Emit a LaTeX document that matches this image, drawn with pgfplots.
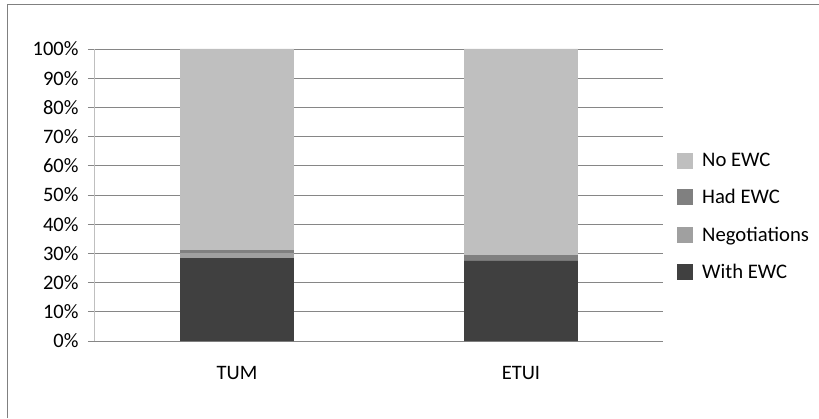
\documentclass[border=0pt]{standalone}
\usepackage{pgfplots}
\pgfplotsset{compat=1.18}
\usepackage{fontspec}
\setmainfont{Carlito}
\definecolor{withewc}{HTML}{404040}
\definecolor{negot}{HTML}{A0A0A0}
\definecolor{hadewc}{HTML}{808080}
\definecolor{noewc}{HTML}{BFBFBF}
\definecolor{gridgray}{HTML}{868686}
\begin{document}
\begin{tikzpicture}
\useasboundingbox (0,0) rectangle (819pt,418pt);
\draw[gray, line width=1pt] (7pt,0) -- (7pt,413pt) -- (819pt,413pt);
\begin{axis}[
	at={(95pt,77pt)}, anchor=south west,
	scale only axis,
	width=568pt, height=292pt,
	ybar stacked,
	bar width=0.4,
	xmin=-0.5, xmax=1.5,
	ymin=0, ymax=100,
	xtick={0,1},
	xticklabels={TUM,ETUI},
	major x tick style={draw=none},
	extra x ticks={-0.5,0.5,1.5},
	extra x tick labels={},
	extra x tick style={major tick length=8pt, tick style={draw=gridgray}},
	ytick={0,10,...,100},
	yticklabels={0\%,10\%,20\%,30\%,40\%,50\%,60\%,70\%,80\%,90\%,100\%},
	ymajorgrids,
	grid style={gridgray, line width=0.8pt},
	major tick length=7pt,
	tick align=outside,
	tick style={gridgray, line width=0.8pt},
	axis line style={draw=none},
	axis x line*=bottom,
	axis y line*=left,
	x axis line style={draw=gridgray, line width=0.8pt},
	y axis line style={draw=noewc, line width=1pt},
	ticklabel style={font=\fontsize{20.5}{22}\selectfont},
	xticklabel style={yshift=-15pt},
	yticklabel style={xshift=-6pt},
	reverse legend,
	legend style={at={(1.0246,0.426)}, anchor=west, draw=none, fill=none,
		inner sep=0pt, font=\fontsize{20.7}{23}\selectfont,
		row sep=17.5pt, cells={anchor=west},
		/tikz/every odd column/.append style={column sep=7pt}},
	legend image code/.code={\fill[#1,draw=none] (0pt,-8pt) rectangle (16pt,8pt);},
]
\addplot[fill=withewc, draw=none] coordinates {(0,28.4) (1,27.4)};
\addplot[fill=negot, draw=none] coordinates {(0,1.7) (1,0)};
\addplot[fill=hadewc, draw=none] coordinates {(0,1.0) (1,2.0)};
\addplot[fill=noewc, draw=none] coordinates {(0,68.9) (1,70.6)};
\legend{With EWC,Negotiations,Had EWC,No EWC}
\end{axis}
\end{tikzpicture}
\end{document}
